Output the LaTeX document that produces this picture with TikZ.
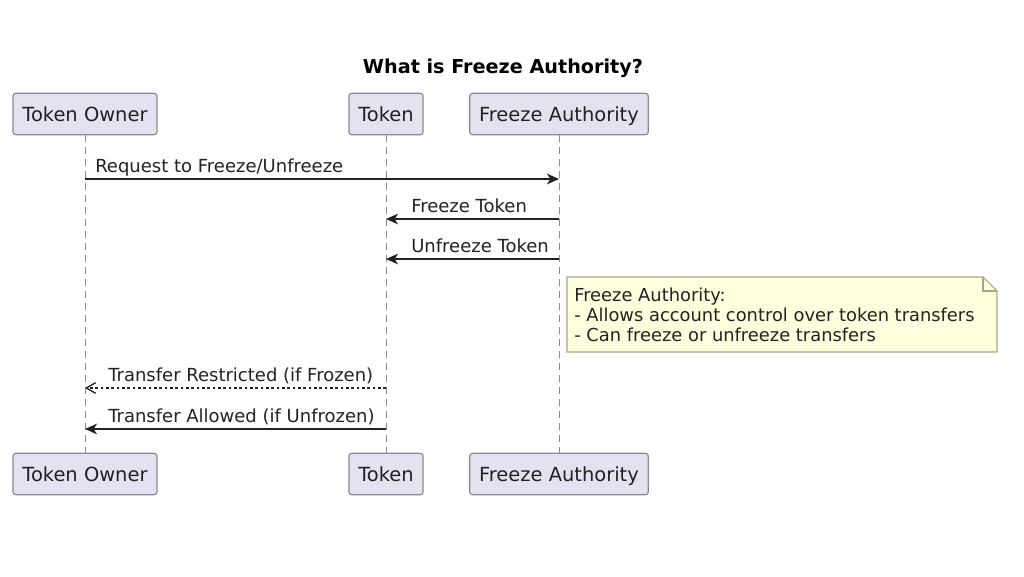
\documentclass[tikz,border=0pt]{standalone}
\usepackage{xcolor}
\usepackage{fontspec}
\setmainfont{DejaVu Sans}
\usepackage{tikz}
\usetikzlibrary{positioning,arrows.meta,shapes.misc}
\definecolor{partfill}{HTML}{E2E2F0}
\definecolor{partline}{HTML}{8A8A96}
\definecolor{notefill}{HTML}{FEFFDD}
\definecolor{noteline}{HTML}{A6A68A}
\definecolor{inkgray}{HTML}{222222}

\begin{document}
\begin{tikzpicture}[x=0.75pt, y=-0.75pt,
  part/.style={
    draw=partline, fill=partfill, rounded corners=2pt, line width=0.9pt,
    minimum height=31pt, inner xsep=7pt, text height=12pt, text depth=1.5pt,
    font=\fontsize{14.6}{16}\selectfont, text=inkgray
  },
  life/.style={draw=partline, dashed, dash pattern=on 5pt off 4pt, line width=0.7pt},
  msg/.style={-{Stealth[length=9pt,width=8pt,inset=2.5pt]}, line width=1.1pt, color=inkgray},
  reply/.style={-{Straight Barb[length=7pt,width=8pt]}, line width=1pt, color=inkgray,
    dash pattern=on 2pt off 2pt},
  lbl/.style={font=\fontsize{13.5}{15}\selectfont, text=inkgray, inner sep=0pt, anchor=base west}
]
\useasboundingbox (0,0) rectangle (1024,576);

% title
\node[font=\bfseries\fontsize{14.4}{16}\selectfont, text=black] (title) at (503,68) {What is Freeze Authority?};

% participants, top and bottom
\node[part] (own) at (85,114) {Token Owner};
\node[part] (tok) at (386,114) {Token};
\node[part] (fa) at (559,114) {Freeze Authority};
\node[part] (own2) at (85,474) {Token Owner};
\node[part] (tok2) at (386,474) {Token};
\node[part] (fa2) at (559,474) {Freeze Authority};

% lifelines
\draw[life] (own) -- (own2);
\draw[life] (tok) -- (tok2);
\draw[life] (fa) -- (fa2);

% message points on the lifelines
\coordinate (m1a) at (85,179);  \coordinate (m1b) at (559,179);
\coordinate (m2a) at (559,219); \coordinate (m2b) at (386,219);
\coordinate (m3a) at (559,259); \coordinate (m3b) at (386,259);
\coordinate (m4a) at (386,388); \coordinate (m4b) at (85,388);
\coordinate (m5a) at (386,429); \coordinate (m5b) at (85,429);

\draw[msg] (m1a) -- (m1b);
\node[lbl] (l1) at (95,172) {Request to Freeze/Unfreeze};
\draw[msg] (m2a) -- (m2b);
\node[lbl] (l2) at (411,212) {Freeze Token};
\draw[msg] (m3a) -- (m3b);
\node[lbl] (l3) at (411,252) {Unfreeze Token};

% note
\draw[draw=noteline, fill=notefill, line width=0.8pt]
  (567,277) -- (983,277) -- (997,291) -- (997,352) -- (567,352) -- cycle;
\draw[draw=noteline, line width=0.8pt] (983,277) -- (983,291) -- (997,291);
\node[font=\fontsize{13.4}{15}\selectfont, text=inkgray, align=left, anchor=north west, inner sep=0pt]
  (note) at (574,288) {Freeze Authority:\\- Allows account control over token transfers\\- Can freeze or unfreeze transfers};

\draw[reply] (m4a) -- (m4b);
\node[lbl] (l4) at (108,381) {Transfer Restricted (if Frozen)};
\draw[msg] (m5a) -- (m5b);
\node[lbl] (l5) at (108,422) {Transfer Allowed (if Unfrozen)};
\end{tikzpicture}
\end{document}
